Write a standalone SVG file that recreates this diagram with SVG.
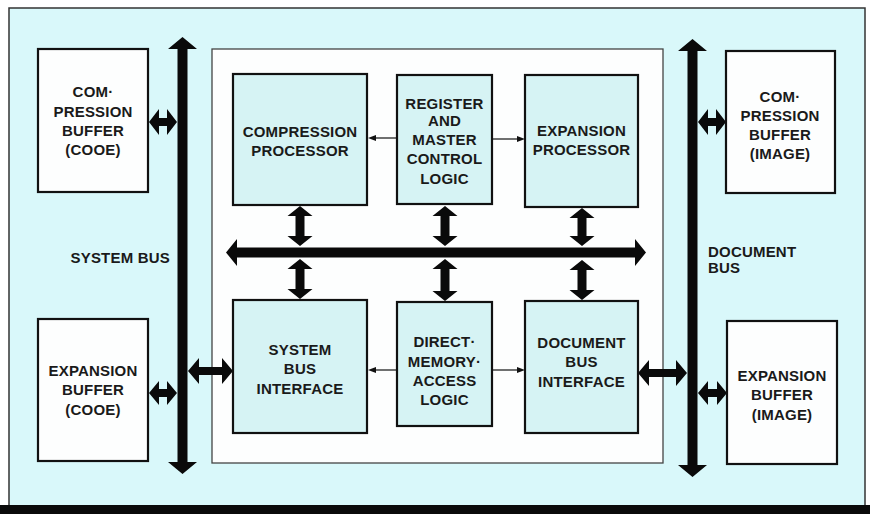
<svg xmlns="http://www.w3.org/2000/svg" width="870" height="514" viewBox="0 0 870 514">
<style>
.frame{fill:#d9f8fa;stroke:#333;stroke-width:1.5}
.inner{fill:#fdfefe;stroke:#444;stroke-width:1.3}
.blk{fill:#d6f3f4;stroke:#111;stroke-width:2.2}
.buf{fill:#fdfefe;stroke:#111;stroke-width:2.2}
.bus{fill:#0a0a0a}
.thin{stroke:#111;stroke-width:1.2;fill:none}
.ah{fill:#111}
text{font-family:"Liberation Sans",Arial,Helvetica,sans-serif;font-size:15px;font-weight:bold;fill:#1a1a1a;text-anchor:middle;letter-spacing:0.2px}
.l{text-anchor:start}
.r{text-anchor:end}
</style>

<g id="background">
<rect class="frame" x="9" y="8" width="856" height="500"/>
<rect x="0" y="505" width="870" height="9" fill="#0a0a0a"/>
<rect class="inner" x="212" y="49" width="451" height="414"/>
</g>

<g id="connectors">
<!-- system bus -->
<polygon class="bus" points="182.5,37 197,49 187.5,49 187.5,462 197,462 182.5,474 168,462 177.5,462 177.5,49 168,49"/>
<!-- document bus -->
<polygon class="bus" points="692.5,39 707,51 697.5,51 697.5,465 707,465 692.5,477 678,465 687.5,465 687.5,51 678,51"/>
<!-- internal horizontal bus -->
<polygon class="bus" points="226,252.5 237,239 237,247.5 635,247.5 635,239 646,252.5 635,266 635,257.5 237,257.5 237,266"/>
<!-- vertical double arrows, upper -->
<polygon class="bus" points="300,206 312.5,216 304.5,216 304.5,236 312.5,236 300,246 287.5,236 295.5,236 295.5,216 287.5,216"/>
<polygon class="bus" points="445,206 457.5,216 449.5,216 449.5,236 457.5,236 445,246 432.5,236 440.5,236 440.5,216 432.5,216"/>
<polygon class="bus" points="582,208 594.5,218 586.5,218 586.5,236 594.5,236 582,246 569.5,236 577.5,236 577.5,218 569.5,218"/>
<!-- vertical double arrows, lower -->
<polygon class="bus" points="300,259 312.5,269 304.5,269 304.5,289 312.5,289 300,299 287.5,289 295.5,289 295.5,269 287.5,269"/>
<polygon class="bus" points="445,259 457.5,269 449.5,269 449.5,291 457.5,291 445,301 432.5,291 440.5,291 440.5,269 432.5,269"/>
<polygon class="bus" points="582,260 594.5,270 586.5,270 586.5,290 594.5,290 582,300 569.5,290 577.5,290 577.5,270 569.5,270"/>
<!-- horizontal double arrows to buses -->
<polygon class="bus" points="149,122 159,109 159,118 167,118 167,109 177,122 167,135 167,126 159,126 159,135"/>
<polygon class="bus" points="149,393 159,381 159,389 167,389 167,381 177,393 167,405 167,397 159,397 159,405"/>
<polygon class="bus" points="188,371 199,358 199,367 222,367 222,358 233,371 222,384 222,375 199,375 199,384"/>
<polygon class="bus" points="698,122 708,109 708,118 716,118 716,109 726,122 716,135 716,126 708,126 708,135"/>
<polygon class="bus" points="638,373 649,360 649,369 676,369 676,360 687,373 676,386 676,377 649,377 649,386"/>
<polygon class="bus" points="698,393 708,381 708,389 717,389 717,381 727,393 717,405 717,397 708,397 708,405"/>
<!-- thin control arrows -->
<line class="thin" x1="397" y1="138" x2="373" y2="138"/>
<polygon class="ah" points="368,138 376,135 376,141"/>
<line class="thin" x1="492" y1="139" x2="519" y2="139"/>
<polygon class="ah" points="525,139 517,136 517,142"/>
<line class="thin" x1="397" y1="370" x2="373" y2="370"/>
<polygon class="ah" points="368,370 376,367 376,373"/>
<line class="thin" x1="492" y1="370" x2="519" y2="370"/>
<polygon class="ah" points="525,370 517,367 517,373"/>
</g>

<g id="compression-buffer-code">
<rect class="buf" x="38" y="49" width="110" height="143"/>
<text x="93" y="97">COM·</text>
<text x="93" y="117">PRESSION</text>
<text x="93" y="136">BUFFER</text>
<text x="93" y="155">(COOE)</text>
</g>

<g id="expansion-buffer-code">
<rect class="buf" x="38" y="319" width="110" height="142"/>
<text x="93" y="376">EXPANSION</text>
<text x="93" y="395">BUFFER</text>
<text x="93" y="415">(COOE)</text>
</g>

<g id="compression-processor">
<rect class="blk" x="233" y="74" width="134" height="131"/>
<text x="300" y="137">COMPRESSION</text>
<text x="300" y="156">PROCESSOR</text>
</g>

<g id="register-master-control">
<rect class="blk" x="397" y="75" width="95" height="129"/>
<text x="444.5" y="109">REGISTER</text>
<text x="444.5" y="126">AND</text>
<text x="444.5" y="145">MASTER</text>
<text x="444.5" y="164">CONTROL</text>
<text x="444.5" y="184">LOGIC</text>
</g>

<g id="expansion-processor">
<rect class="blk" x="525" y="75" width="113" height="132"/>
<text x="581.5" y="136">EXPANSION</text>
<text x="581.5" y="155">PROCESSOR</text>
</g>

<g id="system-bus-interface">
<rect class="blk" x="233" y="300" width="134" height="133"/>
<text x="300" y="355">SYSTEM</text>
<text x="300" y="374">BUS</text>
<text x="300" y="394">INTERFACE</text>
</g>

<g id="dma-logic">
<rect class="blk" x="397" y="302" width="95" height="124"/>
<text x="444.5" y="347">DIRECT·</text>
<text x="444.5" y="367">MEMORY·</text>
<text x="444.5" y="386">ACCESS</text>
<text x="444.5" y="405">LOGIC</text>
</g>

<g id="document-bus-interface">
<rect class="blk" x="525" y="301" width="113" height="132"/>
<text x="581.5" y="348">DOCUMENT</text>
<text x="581.5" y="367">BUS</text>
<text x="581.5" y="387">INTERFACE</text>
</g>

<g id="compression-buffer-image">
<rect class="buf" x="726" y="51" width="109" height="142"/>
<text x="780" y="102">COM·</text>
<text x="780" y="121">PRESSION</text>
<text x="780" y="140">BUFFER</text>
<text x="780" y="159">(IMAGE)</text>
</g>

<g id="expansion-buffer-image">
<rect class="buf" x="727" y="321" width="110" height="143"/>
<text x="782" y="381">EXPANSION</text>
<text x="782" y="400">BUFFER</text>
<text x="782" y="420">(IMAGE)</text>
</g>

<g id="bus-labels">
<text class="r" x="170" y="263">SYSTEM BUS</text>
<text class="l" x="708" y="257">DOCUMENT</text>
<text class="l" x="708" y="273">BUS</text>
</g>
</svg>
